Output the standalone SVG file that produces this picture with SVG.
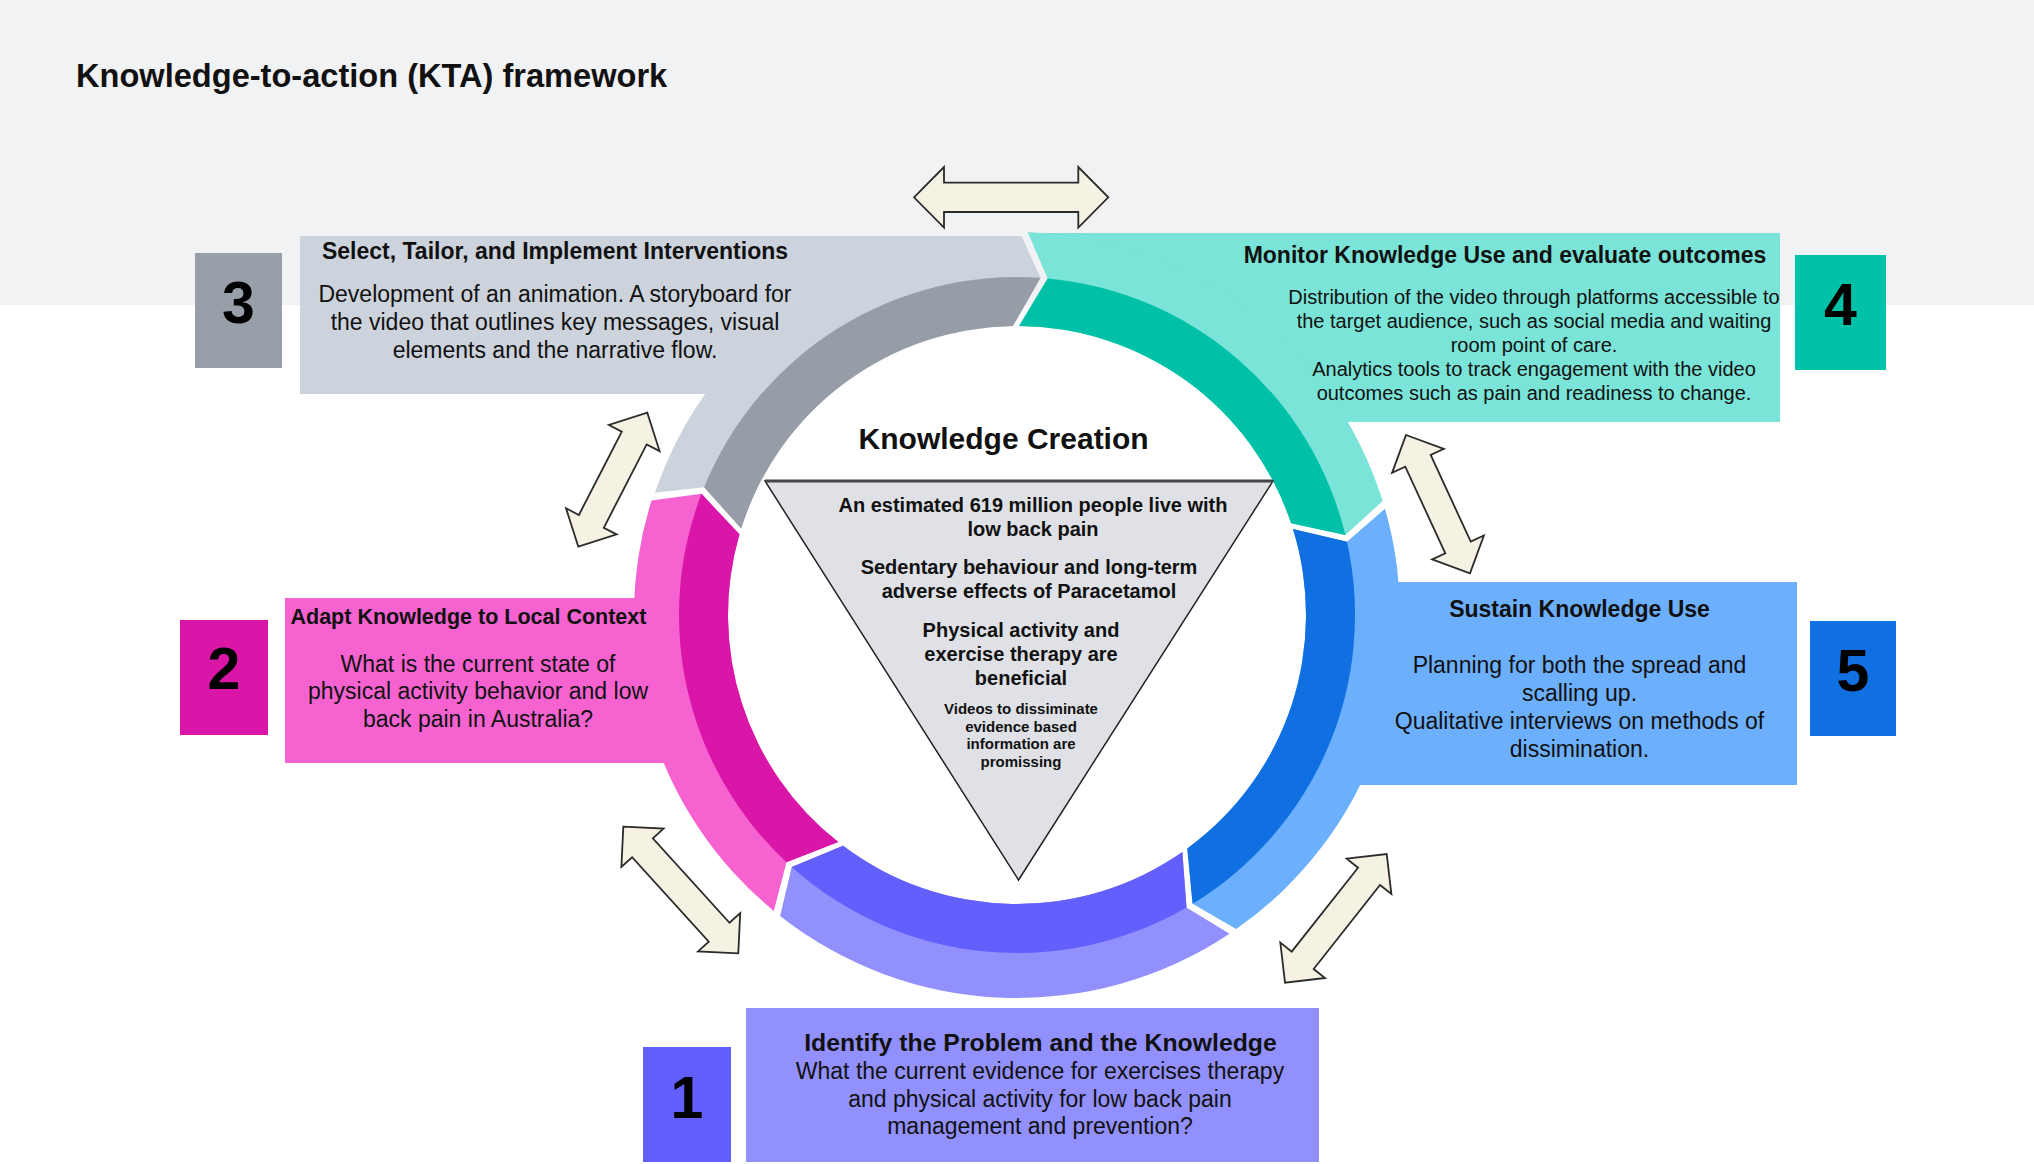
<svg xmlns="http://www.w3.org/2000/svg" width="2034" height="1164" viewBox="0 0 2034 1164">
<style>
.t{font-family:"Liberation Sans",Arial,Helvetica,sans-serif;fill:#111;}
.b{font-weight:bold;}
.c{text-anchor:middle;}
.s23{font-size:23px;}
.s20{font-size:20px;}
.num{font-family:"Liberation Sans",Arial,Helvetica,sans-serif;font-weight:bold;font-size:59px;fill:#000;text-anchor:middle;}
.arrow{fill:#f5f2e3;stroke:#2b2b2b;stroke-width:1.8;stroke-linejoin:miter;}
.gL{fill:#cdd3dc;} .gD{fill:#979da7;}
.tL{fill:#79e4d7;} .tD{fill:#00c1a8;}
.bL{fill:#6caffd;} .bD{fill:#1170e1;}
.pL{fill:#9190fd;} .pD{fill:#625ffd;}
.mL{fill:#f663d0;} .mD{fill:#d916a8;}
</style>
<defs>
<clipPath id="clipGray"><rect x="0" y="236" width="2034" height="1000"/></clipPath>
</defs>
<rect x="0" y="0" width="2034" height="1164" fill="#ffffff"/>
<rect x="0" y="0" width="2034" height="305" fill="#f1f2f4"/>

<g id="title">
<text class="t b" x="76" y="87" font-size="32.6">Knowledge-to-action (KTA) framework</text>
</g>

<g id="step1">
<path class="pL" d="M1229.50,933.64 A383,383 0 0 1 780.15,915.98 L791.71,866.97 L843.07,845.81 A289,289 0 0 0 1182.35,852.02 L1186.51,907.42 Z"/>
<path class="pD" d="M1186.51,907.42 A338,338 0 0 1 791.71,866.97 L843.07,845.81 A289,289 0 0 0 1182.35,852.02 Z"/>
<rect class="pL" x="746" y="1008" width="573" height="154"/>
<rect class="pD" x="643" y="1047" width="88" height="115"/>
<text class="num" x="687" y="1118">1</text>
<text class="t b c" x="1040.5" y="1051" font-size="24.8">Identify the Problem and the Knowledge</text>
<text class="t c s23" x="1040" y="1079">What the current evidence for exercises therapy</text>
<text class="t c s23" x="1040" y="1107">and physical activity for low back pain</text>
<text class="t c s23" x="1040" y="1134">management and prevention?</text>
</g>

<g id="step2">
<path class="mL" d="M285,598 H690 V763 H285 Z"/>
<path class="mL" d="M773.81,910.89 A383,383 0 0 1 651.53,500.47 L701.45,493.87 L739.48,534.37 A289,289 0 0 0 838.28,842.11 L786.48,862.20 Z"/>
<path class="mD" d="M786.48,862.20 A338,338 0 0 1 701.45,493.87 L739.48,534.37 A289,289 0 0 0 838.28,842.11 Z"/>
<rect class="mD" x="180" y="620" width="88" height="115"/>
<text class="num" x="224" y="689">2</text>
<text class="t b" x="290.5" y="624" font-size="21.5">Adapt Knowledge to Local Context</text>
<text class="t c s23" x="478" y="672">What is the current state of</text>
<text class="t c s23" x="478" y="699">physical activity behavior and low</text>
<text class="t c s23" x="478" y="727">back pain in Australia?</text>
</g>

<g id="step3">
<g clip-path="url(#clipGray)">
<path class="gL" d="M300,236 H1005 V300 L900,330 L800,394 H300 Z"/>
<path class="gL" d="M655.00,492.84 A383,383 0 0 1 1019.67,232.01 L1040.58,277.82 L1012.96,326.03 A289,289 0 0 0 741.22,528.58 L704.06,487.29 Z"/>
<path class="gD" d="M704.06,487.29 A338,338 0 0 1 1040.58,277.82 L1012.96,326.03 A289,289 0 0 0 741.22,528.58 Z"/>
</g>
<rect fill="#999fa9" x="195" y="253" width="87" height="115"/>
<text class="num" x="238.5" y="323">3</text>
<text class="t b c s23" x="555" y="259">Select, Tailor, and Implement Interventions</text>
<text class="t c s23" x="555" y="302">Development of an animation. A storyboard for</text>
<text class="t c s23" x="555" y="330">the video that outlines key messages, visual</text>
<text class="t c s23" x="555" y="358">elements and the narrative flow.</text>
</g>

<g id="step4">
<path class="tL" d="M1036,233 H1780 V422 H1330 L1300,400 L1200,330 L1100,300 L1055,290 Z"/>
<path class="tL" d="M1027.69,232.15 A383,383 0 0 1 1382.67,501.11 L1345.38,534.95 L1291.06,523.30 A289,289 0 0 0 1019.02,326.01 L1047.63,278.39 Z"/>
<path class="tD" d="M1047.63,278.39 A338,338 0 0 1 1345.38,534.95 L1291.06,523.30 A289,289 0 0 0 1019.02,326.01 Z"/>
<rect fill="#00c2a8" x="1795" y="255" width="91" height="115"/>
<text class="num" x="1840.5" y="325">4</text>
<text class="t b c s23" x="1505" y="263">Monitor Knowledge Use and evaluate outcomes</text>
<text class="t c s20" x="1534" y="304">Distribution of the video through platforms accessible to</text>
<text class="t c s20" x="1534" y="328">the target audience, such as social media and waiting</text>
<text class="t c s20" x="1534" y="352">room point of care.</text>
<text class="t c s20" x="1534" y="376">Analytics tools to track engagement with the video</text>
<text class="t c s20" x="1534" y="400">outcomes such as pain and readiness to change.</text>
</g>

<g id="step5">
<path class="bL" d="M1340,582 H1797 V785 H1340 Z"/>
<path class="bL" d="M1384.98,508.79 A383,383 0 0 1 1236.13,929.12 L1192.60,903.81 L1187.28,848.51 A289,289 0 0 0 1292.93,529.06 L1346.99,541.84 Z"/>
<path class="bD" d="M1346.99,541.84 A338,338 0 0 1 1192.60,903.81 L1187.28,848.51 A289,289 0 0 0 1292.93,529.06 Z"/>
<rect class="bD" x="1810" y="621" width="86" height="115"/>
<text class="num" x="1853" y="691">5</text>
<text class="t b c s23" x="1579.5" y="617">Sustain Knowledge Use</text>
<text class="t c s23" x="1579.5" y="673">Planning for both the spread and</text>
<text class="t c s23" x="1579.5" y="701">scalling up.</text>
<text class="t c s23" x="1579.5" y="729">Qualitative interviews on methods of</text>
<text class="t c s23" x="1579.5" y="757">dissimination.</text>
</g>

<g id="knowledge-creation">
<text class="t b c" x="1003.6" y="449" font-size="30">Knowledge Creation</text>
<polygon points="765,481 1273,481 1018.5,880" fill="#dfe1e6" stroke="#222" stroke-width="1.5" stroke-linejoin="miter"/>
<line x1="765" y1="481" x2="1273" y2="481" stroke="#454545" stroke-width="3"/>
<text class="t b c s20" x="1033" y="512">An estimated 619 million people live with</text>
<text class="t b c s20" x="1033" y="536">low back pain</text>
<text class="t b c s20" x="1029" y="574">Sedentary behaviour and long-term</text>
<text class="t b c s20" x="1029" y="597.5">adverse effects of Paracetamol</text>
<text class="t b c s20" x="1021" y="637">Physical activity and</text>
<text class="t b c s20" x="1021" y="661">exercise therapy are</text>
<text class="t b c s20" x="1021" y="685">beneficial</text>
<text class="t b c" x="1021" y="714" font-size="15">Videos to dissiminate</text>
<text class="t b c" x="1021" y="731.5" font-size="15">evidence based</text>
<text class="t b c" x="1021" y="749.3" font-size="15">information are</text>
<text class="t b c" x="1021" y="767" font-size="15">promissing</text>
</g>

<g id="connectors">
<path class="arrow" transform="translate(1011.15,197.3)" d="M-97.15,0 L-67.15,-30.3 L-67.15,-14.7 L67.15,-14.7 L67.15,-30.3 L97.15,0 L67.15,30.3 L67.15,14.7 L-67.15,14.7 L-67.15,30.3 Z"/>
<path class="arrow" transform="translate(612.8,479.7) rotate(-62.76)" d="M-75.35,0 L-46.85,-28.5 L-46.85,-14 L46.85,-14 L46.85,-28.5 L75.35,0 L46.85,28.5 L46.85,14 L-46.85,14 L-46.85,28.5 Z"/>
<path class="arrow" transform="translate(1438,504.15) rotate(65.17)" d="M-76.2,0 L-47.7,-28.5 L-47.7,-14 L47.7,-14 L47.7,-28.5 L76.2,0 L47.7,28.5 L47.7,14 L-47.7,14 L-47.7,28.5 Z"/>
<path class="arrow" transform="translate(680.8,890) rotate(47.75)" d="M-85.5,0 L-57,-28.5 L-57,-14 L57,-14 L57,-28.5 L85.5,0 L57,28.5 L57,14 L-57,14 L-57,28.5 Z"/>
<path class="arrow" transform="translate(1335.85,918.35) rotate(-51.68)" d="M-82,0 L-53.5,-28.5 L-53.5,-14 L53.5,-14 L53.5,-28.5 L82,0 L53.5,28.5 L53.5,14 L-53.5,14 L-53.5,28.5 Z"/>
</g>
</svg>
